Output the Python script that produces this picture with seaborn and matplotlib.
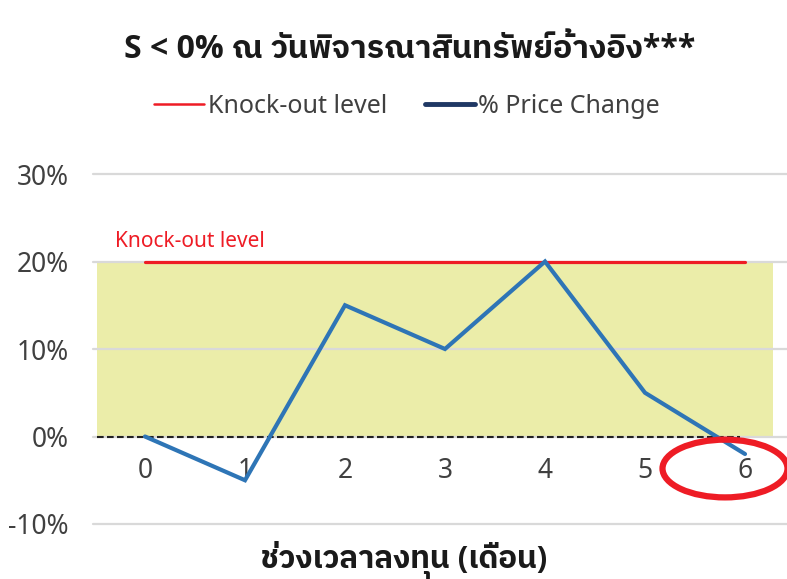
import matplotlib
matplotlib.use("Agg")
import matplotlib.pyplot as plt
from matplotlib.lines import Line2D
from matplotlib.patches import Ellipse
import seaborn as sns
import pandas as pd

# ---- data ----
months = [0, 1, 2, 3, 4, 5, 6]
price_change = [0.00, -0.05, 0.15, 0.10, 0.20, 0.05, -0.02]
knockout_level = 0.20
y_ticks = [-0.10, 0.00, 0.10, 0.20, 0.30]
y_tick_labels = ["-10%", "0%", "10%", "20%", "30%"]
title = "S < 0% ณ วันพิจารณาสินทรัพย์อ้างอิง***"
x_label = "ช่วงเวลาลงทุน (เดือน)"
legend_labels = ["Knock-out level", "% Price Change"]
ko_annotation = "Knock-out level"

df = pd.DataFrame({"month": months, "change": price_change})

sns.set_theme(style="white")
FONTS = ["Noto Sans", "Noto Sans Thai", "DejaVu Sans"]
BOLD_FONTS = ["Open Sans", "IBM Plex Sans Thai", "DejaVu Sans"]
plt.rcParams["font.family"] = FONTS

TXT = "#404040"
BLUE = "#2E75B6"
RED = "#EE1C25"
NAVY = "#1F3864"
YELLOW = "#EBEDA9"
GRID = "#D9D9D9"

W, H = 787, 579
fig = plt.figure(figsize=(W / 100, H / 100), dpi=100)
# axes spans x -0.5..6.5 -> px 95..795 ; y -10%..30% -> px 524..174
ax = fig.add_axes([95 / W, (H - 524) / H, 700 / W, 350 / H])
ax.set_xlim(-0.5, 6.5)
ax.set_ylim(-0.10, 0.30)

# shaded band between 0 and knock-out level
ax.fill_between([-0.48, 6.28], 0, knockout_level, color=YELLOW, lw=0, zorder=1)

# gridlines
for yv in y_ticks:
    ax.axhline(yv, xmin=-0.003, color=GRID, lw=1.6, zorder=2, clip_on=False)

# knock-out level line
ax.plot([months[0], months[-1]], [knockout_level, knockout_level], color=RED, lw=2.3, zorder=3)
ax.text(-0.3, knockout_level + 0.023, ko_annotation, color=RED, fontsize=15, va="center", ha="left")

# dashed zero line
ax.plot([-0.48, 5.95], [0, 0], color="#222222", lw=1.5, ls=(0, (3.2, 1.6)), zorder=3)

# price change line
sns.lineplot(data=df, x="month", y="change", ax=ax, color=BLUE, lw=3.0, zorder=4,
             legend=False, solid_joinstyle="miter")

# red ellipse highlight around last point
ell = Ellipse((5.8, -0.0366), 1.25, 0.066, fill=False, ec=RED, lw=4.5, zorder=6, clip_on=False)
ax.add_patch(ell)

# axes styling
for s in ax.spines.values():
    s.set_visible(False)
ax.spines["bottom"].set_position(("data", 0))
ax.set_xticks(months)
ax.set_xticklabels([str(m) for m in months])
ax.set_yticks(y_ticks)
ax.set_yticklabels(y_tick_labels)
ax.tick_params(axis="x", length=0, pad=15, labelsize=19, labelcolor=TXT)
ax.tick_params(axis="y", length=0, pad=19, labelsize=19, labelcolor=TXT)
ax.set_xlabel("")
ax.set_ylabel("")

# title and x label
fig.text(410 / W, 1 - 49 / H, title, ha="center", va="center", fontsize=23,
         fontweight="bold", color="#1a1a1a", family=BOLD_FONTS)
fig.text(404 / W, 1 - 560 / H, x_label, ha="center", va="center", fontsize=22.5,
         fontweight="bold", color="#1a1a1a", family=BOLD_FONTS)

# legend
handles = [Line2D([], [], color=RED, lw=1.8), Line2D([], [], color=NAVY, lw=3.5)]
fig.legend(handles, legend_labels, loc="center", bbox_to_anchor=(407 / W, 1 - 106 / H),
           ncol=2, frameon=False, fontsize=18, labelcolor=TXT, handlelength=2.0,
           handletextpad=0.15, columnspacing=1.5)

fig.savefig("out.png", dpi=100)
